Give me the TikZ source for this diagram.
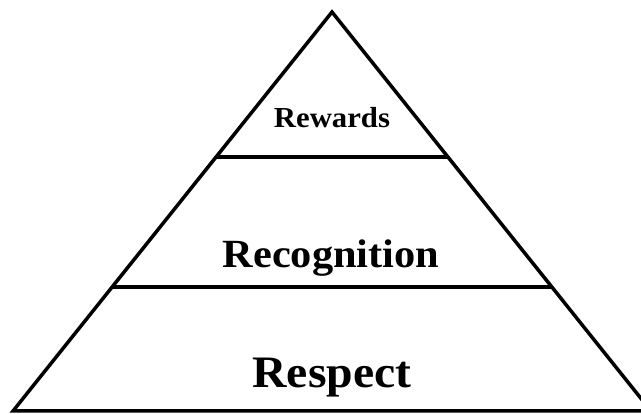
\documentclass[tikz,border=0pt]{standalone}
\usepackage{fontspec}
\setmainfont{Liberation Serif}[FakeStretch=1.06]
\usetikzlibrary{calc}

\begin{document}
\begin{tikzpicture}[
      x=1pt, y=-1pt,
      edge/.style={draw, line width=3.5pt, line join=miter},
      tier/.style={font=\bfseries, anchor=base, inner sep=0pt},
    ]
    \useasboundingbox (0,0) rectangle (641,414);
    \coordinate (apex) at (332,12);
    \coordinate (bl) at (13,411);
    \coordinate (br) at (651,411);
    \draw[edge] (bl) -- (apex) -- (br) -- cycle;
    % tier borders
    \draw[edge] (216,157) -- (448,157);
    \draw[edge] (112,287) -- (552,287);
    \node[tier, font=\fontsize{29}{32}\selectfont\bfseries] (rew) at (332,128) {Rewards};
    \node[tier, font=\fontsize{40}{44}\selectfont\bfseries] (rec) at (331,268) {Recognition};
    \node[tier, font=\fontsize{45}{50}\selectfont\bfseries] (res) at (332,388) {Respect};
  \end{tikzpicture}
\end{document}
